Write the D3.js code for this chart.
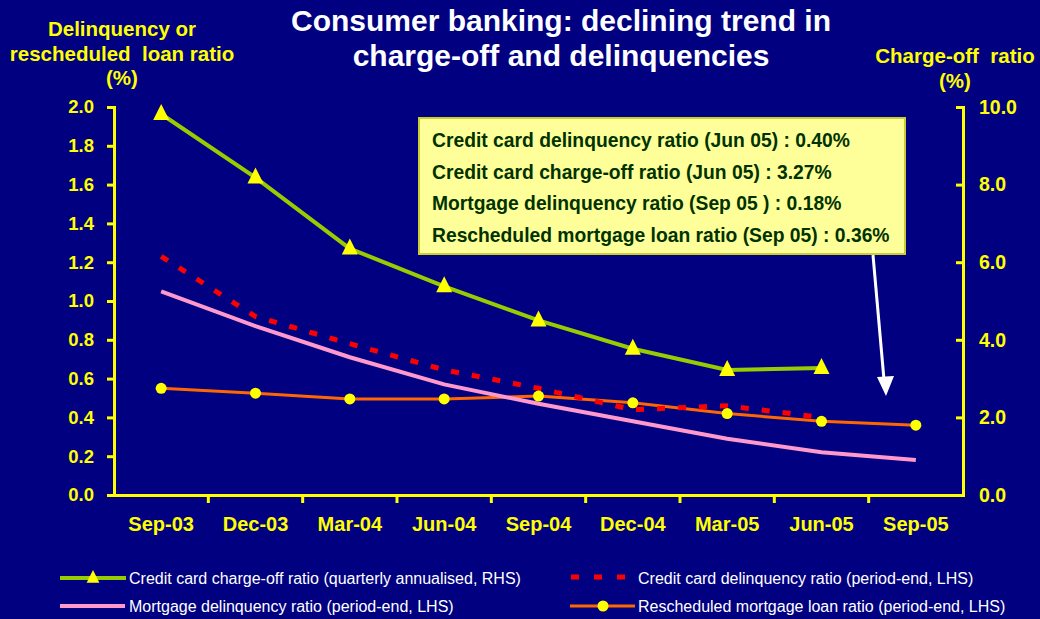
<!DOCTYPE html>
<html>
<head>
<meta charset="utf-8">
<script src="https://cdn.jsdelivr.net/npm/d3@7"></script>
<style>
  body { margin: 0; background: #000080; }
  svg { display: block; font-family: "Liberation Sans", Arial, sans-serif; }
  text { white-space: pre; }
</style>
</head>
<body>
<div id="wrapper"></div>
<script>
const quarters = ["Sep-03", "Dec-03", "Mar-04", "Jun-04", "Sep-04", "Dec-04", "Mar-05", "Jun-05", "Sep-05"];
const chargeOff = [9.82, 8.18, 6.35, 5.38, 4.5, 3.77, 3.22, 3.27];
const cardDelinq = [1.23, 0.92, 0.78, 0.645, 0.55, 0.44, 0.46, 0.40];
const mortgageDelinq = [1.05, 0.87, 0.71, 0.57, 0.47, 0.38, 0.29, 0.22, 0.18];
const rescheduled = [0.55, 0.525, 0.495, 0.495, 0.51, 0.475, 0.42, 0.38, 0.36];
const leftTicks = [0, 0.2, 0.4, 0.6, 0.8, 1.0, 1.2, 1.4, 1.6, 1.8, 2.0];
const rightTicks = [0, 2, 4, 6, 8, 10];
const boxLines = [
  "Credit card delinquency ratio (Jun 05) : 0.40%",
  "Credit card charge-off ratio (Jun 05) : 3.27%",
  "Mortgage delinquency ratio (Sep 05 ) : 0.18%",
  "Rescheduled mortgage loan ratio (Sep 05) : 0.36%"
];

function drawChart() {
  let dimensions = {
    width: 1040,
    height: 619,
    margin: { top: 107, left: 114, bottom: 124, right: 77 }
  };
  dimensions.boundedWidth = dimensions.width - dimensions.margin.left - dimensions.margin.right;
  dimensions.boundedHeight = dimensions.height - dimensions.margin.top - dimensions.margin.bottom;

  const svg = d3.select("#wrapper").append("svg")
    .attr("width", dimensions.width)
    .attr("height", dimensions.height);
  svg.append("rect").attr("width", dimensions.width).attr("height", dimensions.height).attr("fill", "#000080");

  const yellow = "#FFFF00";

  // titles
  const title = svg.append("text").attr("fill", "white").attr("font-weight", "bold")
    .attr("font-size", 30).attr("text-anchor", "middle");
  title.append("tspan").attr("x", 561).attr("y", 31).text("Consumer banking: declining trend in");
  title.append("tspan").attr("x", 561).attr("y", 66).text("charge-off and delinquencies");

  const lt = svg.append("text").attr("fill", yellow).attr("font-weight", "bold")
    .attr("font-size", 20.5).attr("text-anchor", "middle");
  ["Delinquency or", "rescheduled  loan ratio", "(%)"].forEach((t, i) => {
    lt.append("tspan").attr("x", 122).attr("y", 36 + i * 24.5).text(t);
  });
  const rt = svg.append("text").attr("fill", yellow).attr("font-weight", "bold")
    .attr("font-size", 20.5).attr("text-anchor", "middle");
  ["Charge-off  ratio", "(%)"].forEach((t, i) => {
    rt.append("tspan").attr("x", 955).attr("y", 63 + i * 24.5).text(t);
  });

  const container = svg.append("g")
    .attr("transform", `translate(${dimensions.margin.left},${dimensions.margin.top})`);

  const xScale = d3.scaleBand().domain(quarters).range([0, dimensions.boundedWidth]);
  const xc = d => xScale(d) + xScale.bandwidth() / 2;
  const yLeft = d3.scaleLinear().domain([0, 2]).range([dimensions.boundedHeight, 0]);
  const yRight = d3.scaleLinear().domain([0, 10]).range([dimensions.boundedHeight, 0]);

  // axes
  const styleAxis = size => g => {
    g.selectAll("path.domain").attr("stroke", yellow).attr("stroke-width", 3);
    g.selectAll(".tick line").attr("stroke", yellow).attr("stroke-width", 3);
    g.selectAll("text").attr("fill", yellow).attr("font-size", size).attr("font-weight", "bold")
      .attr("font-family", "Liberation Sans, Arial, sans-serif");
  };
  container.append("g")
    .call(d3.axisLeft(yLeft).tickValues(leftTicks).tickFormat(d3.format(".1f")).tickSizeOuter(0).tickSize(7).tickPadding(13))
    .call(styleAxis(18.5));
  container.append("g")
    .attr("transform", `translate(${dimensions.boundedWidth},0)`)
    .call(d3.axisRight(yRight).tickValues(rightTicks).tickFormat(d3.format(".1f")).tickSizeOuter(0).tickSize(-7).tickPadding(16))
    .call(styleAxis(19.5));
  const xAxis = container.append("g")
    .attr("transform", `translate(0,${dimensions.boundedHeight})`)
    .call(d3.axisBottom(xScale).tickSize(0).tickSizeOuter(0).tickPadding(22))
    .call(styleAxis(20));
  xAxis.selectAll(".tick text").attr("dy", "0.71em");
  // band boundary ticks
  container.append("g").selectAll("line")
    .data(quarters.slice(1))
    .join("line")
    .attr("x1", d => xScale(d)).attr("x2", d => xScale(d))
    .attr("y1", dimensions.boundedHeight).attr("y2", dimensions.boundedHeight + 8)
    .attr("stroke", yellow).attr("stroke-width", 3);

  const line = (yScale) => d3.line().x((d, i) => xc(quarters[i])).y(d => yScale(d));

  // rescheduled (orange)
  container.append("path").datum(rescheduled).attr("d", line(yLeft))
    .attr("fill", "none").attr("stroke", "#FF6600").attr("stroke-width", 3);
  // mortgage delinquency (pink)
  container.append("path").datum(mortgageDelinq).attr("d", line(yLeft))
    .attr("fill", "none").attr("stroke", "#FF99CC").attr("stroke-width", 4);
  // card delinquency (red dashed)
  container.append("path").datum(cardDelinq).attr("d", line(yLeft))
    .attr("fill", "none").attr("stroke", "#FF0000").attr("stroke-width", 5).attr("stroke-dasharray", "8,13");
  container.selectAll("circle.resc").data(rescheduled).join("circle").attr("class", "resc")
    .attr("cx", (d, i) => xc(quarters[i])).attr("cy", d => yLeft(d)).attr("r", 5.5).attr("fill", yellow);
  // charge-off (green)
  container.append("path").datum(chargeOff).attr("d", line(yRight))
    .attr("fill", "none").attr("stroke", "#99CC00").attr("stroke-width", 4);
  const triPath = "M0,-10L8,6L-8,6Z";
  container.selectAll("path.tri").data(chargeOff).join("path").attr("class", "tri")
    .attr("transform", (d, i) => `translate(${xc(quarters[i])},${yRight(d)})`)
    .attr("d", triPath).attr("fill", yellow);

  // annotation box
  svg.append("rect").attr("x", 419).attr("y", 118).attr("width", 486).attr("height", 136)
    .attr("fill", "#FFFF99").attr("stroke", "#CCCC33").attr("stroke-width", 2);
  svg.append("g").selectAll("text").data(boxLines).join("text")
    .attr("x", 432).attr("y", (d, i) => 147 + i * 31.7)
    .attr("fill", "#003300").attr("font-weight", "bold").attr("font-size", 19.3)
    .text(d => d);

  // arrow
  svg.append("line").attr("x1", 873).attr("y1", 255).attr("x2", 884).attr("y2", 380)
    .attr("stroke", "white").attr("stroke-width", 3);
  svg.append("path").attr("d", "M877,377 L894,376 L886,396 Z").attr("fill", "white");

  // legend
  const legend = svg.append("g").attr("font-size", 16).attr("fill", "white");
  const leg1 = legend.append("g");
  leg1.append("line").attr("x1", 60).attr("x2", 126).attr("y1", 578).attr("y2", 578).attr("stroke", "#99CC00").attr("stroke-width", 4);
  leg1.append("path").attr("transform", "translate(93,578) scale(0.8)").attr("d", triPath).attr("fill", yellow);
  leg1.append("text").attr("x", 129).attr("y", 584).text("Credit card charge-off ratio (quarterly annualised, RHS)");

  const leg2 = legend.append("g");
  leg2.append("line").attr("x1", 571).attr("x2", 626).attr("y1", 577).attr("y2", 577).attr("stroke", "#FF0000").attr("stroke-width", 5).attr("stroke-dasharray", "8,15");
  leg2.append("text").attr("x", 638).attr("y", 584).text("Credit card delinquency ratio (period-end, LHS)");

  const leg3 = legend.append("g");
  leg3.append("line").attr("x1", 60).attr("x2", 125).attr("y1", 606).attr("y2", 606).attr("stroke", "#FF99CC").attr("stroke-width", 4);
  leg3.append("text").attr("x", 129).attr("y", 612).text("Mortgage delinquency ratio (period-end, LHS)");

  const leg4 = legend.append("g");
  leg4.append("line").attr("x1", 570).attr("x2", 635).attr("y1", 606).attr("y2", 606).attr("stroke", "#FF6600").attr("stroke-width", 3);
  leg4.append("circle").attr("cx", 603).attr("cy", 606).attr("r", 5.5).attr("fill", yellow);
  leg4.append("text").attr("x", 638).attr("y", 612).text("Rescheduled mortgage loan ratio (period-end, LHS)");
}

drawChart();
</script>
</body>
</html>
